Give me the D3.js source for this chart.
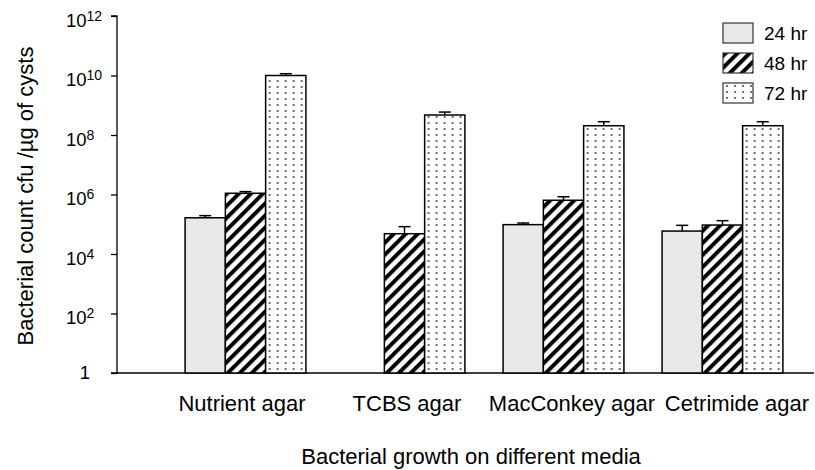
<!DOCTYPE html>
<html>
<head>
<meta charset="utf-8">
<script src="https://cdn.jsdelivr.net/npm/d3@7"></script>
<style>
  body { margin: 0; background: #fff; }
  text { font-family: "Liberation Sans", Arial, sans-serif; fill: #000; }
</style>
</head>
<body>
<script>
var width = 815;
var height = 470;

// data (cfu / ug of cysts)
var media = ["Nutrient agar", "TCBS agar", "MacConkey agar", "Cetrimide agar"];
var series = ["24 hr", "48 hr", "72 hr"];
var means24 = [1.65e5, null, 9.7e4, 5.9e4];
var means48 = [1.1e6, 4.8e4, 6.4e5, 9.4e4];
var means72 = [1.0e10, 4.7e8, 2.05e8, 2.05e8];
var err24 = [3e4, null, 1.3e4, 3.3e4];
var err48 = [1.5e5, 3.5e4, 2.0e5, 3.8e4];
var err72 = [1.5e9, 1.2e8, 7.5e7, 7.5e7];
var yTicks = [0, 2, 4, 6, 8, 10, 12];

var means = [means24, means48, means72];
var errs = [err24, err48, err72];

var bars = [];
media.forEach(function(m, i) {
  series.forEach(function(s, j) {
    if (means[j][i] != null) {
      bars.push({ medium: m, series: s, value: means[j][i], err: errs[j][i] });
    }
  });
});

var svg = d3.select("body").append("svg")
  .attr("width", width)
  .attr("height", height);

// fill patterns
var defs = svg.append("defs");
defs.append("pattern")
  .attr("id", "stripes")
  .attr("patternUnits", "userSpaceOnUse")
  .attr("width", 8.5)
  .attr("height", 8.5)
  .attr("patternTransform", "rotate(45)")
  .call(function(p) {
    p.append("rect").attr("width", 8.5).attr("height", 8.5).attr("fill", "#fff");
    p.append("rect").attr("width", 4).attr("height", 8.5).attr("fill", "#000");
  });
defs.append("pattern")
  .attr("id", "dots")
  .attr("patternUnits", "userSpaceOnUse")
  .attr("width", 8)
  .attr("height", 6)
  .call(function(p) {
    p.append("rect").attr("width", 8).attr("height", 6).attr("fill", "#fff");
    p.append("circle").attr("cx", 4).attr("cy", 3).attr("r", 0.95).attr("fill", "#333");
  });

var fills = { "24 hr": "#e8e8e8", "48 hr": "url(#stripes)", "72 hr": "url(#dots)" };

var x = d3.scaleBand()
  .domain(media)
  .range([166, 802])
  .paddingInner(0.24)
  .paddingOuter(0.12);

var xInner = d3.scaleBand()
  .domain(series)
  .range([0, x.bandwidth()]);

var y = d3.scaleLog()
  .domain([1, 1e12])
  .range([373, 16]);

var labelX = d3.scalePoint()
  .domain(media)
  .range([242, 737]);

// y axis
var yAxis = d3.axisLeft(y)
  .tickValues(yTicks.map(function(e) { return Math.pow(10, e); }))
  .tickSize(6)
  .tickFormat("");

var gy = svg.append("g")
  .attr("transform", "translate(117,0)")
  .call(yAxis);
gy.select(".domain").attr("stroke", "#000").attr("stroke-width", 1.3).attr("d", "M-6,16H0V373");
gy.selectAll(".tick line").attr("stroke", "#000").attr("stroke-width", 1.3);

gy.selectAll(".tick").each(function(d) {
  var e = Math.round(Math.log10(d));
  var t = d3.select(this).append("text")
    .attr("x", e === 0 ? -32 : -51)
    .attr("text-anchor", e === 0 ? "middle" : "start")
    .attr("font-size", 18.5)
    .attr("dy", e === 0 ? 5 : 10);
  if (e === 0) {
    t.text("1");
  } else {
    t.append("tspan").text("10");
    t.append("tspan").attr("font-size", 14).attr("dy", -6).text(e);
  }
});

// baseline
svg.append("line")
  .attr("x1", 111).attr("x2", 814)
  .attr("y1", y(1)).attr("y2", y(1))
  .attr("stroke", "#000").attr("stroke-width", 1.3);

// bars
var bar = svg.append("g").selectAll("g")
  .data(bars)
  .enter()
  .append("g")
  .attr("transform", function(d) { return "translate(" + (x(d.medium) + xInner(d.series)) + ",0)"; });

bar.append("line")
  .attr("x1", xInner.bandwidth() / 2)
  .attr("x2", xInner.bandwidth() / 2)
  .attr("y1", function(d) { return y(d.value); })
  .attr("y2", function(d) { return y(d.value + d.err); })
  .attr("stroke", "#000").attr("stroke-width", 1.5);

bar.append("line")
  .attr("x1", xInner.bandwidth() / 2 - 6)
  .attr("x2", xInner.bandwidth() / 2 + 6)
  .attr("y1", function(d) { return y(d.value + d.err); })
  .attr("y2", function(d) { return y(d.value + d.err); })
  .attr("stroke", "#000").attr("stroke-width", 1.5);

bar.append("rect")
  .attr("x", 0)
  .attr("width", xInner.bandwidth())
  .attr("y", function(d) { return y(d.value); })
  .attr("height", function(d) { return y(1) - y(d.value); })
  .attr("fill", function(d) { return fills[d.series]; })
  .attr("stroke", "#000")
  .attr("stroke-width", 1.5);

// category labels
svg.append("g").selectAll("text")
  .data(media)
  .enter()
  .append("text")
  .attr("x", function(d) { return labelX(d); })
  .attr("y", 411)
  .attr("text-anchor", "middle")
  .attr("font-size", 22)
  .text(function(d) { return d; });

// axis titles
svg.append("text")
  .attr("x", 471)
  .attr("y", 464)
  .attr("text-anchor", "middle")
  .attr("font-size", 22)
  .text("Bacterial growth on different media");

svg.append("text")
  .attr("transform", "translate(33,196) rotate(-90)")
  .attr("text-anchor", "middle")
  .attr("font-size", 22)
  .text("Bacterial count cfu /\u00b5g of cysts");

// legend
var legend = svg.append("g").selectAll("g")
  .data(series)
  .enter()
  .append("g")
  .attr("transform", function(d, i) { return "translate(723," + (23 + i * 30) + ")"; });

legend.append("rect")
  .attr("width", 30)
  .attr("height", 20)
  .attr("fill", function(d) { return fills[d]; })
  .attr("stroke", "#333")
  .attr("stroke-width", 1.2);

legend.append("text")
  .attr("x", 41)
  .attr("y", 17)
  .attr("font-size", 19)
  .text(function(d) { return d; });
</script>
</body>
</html>
